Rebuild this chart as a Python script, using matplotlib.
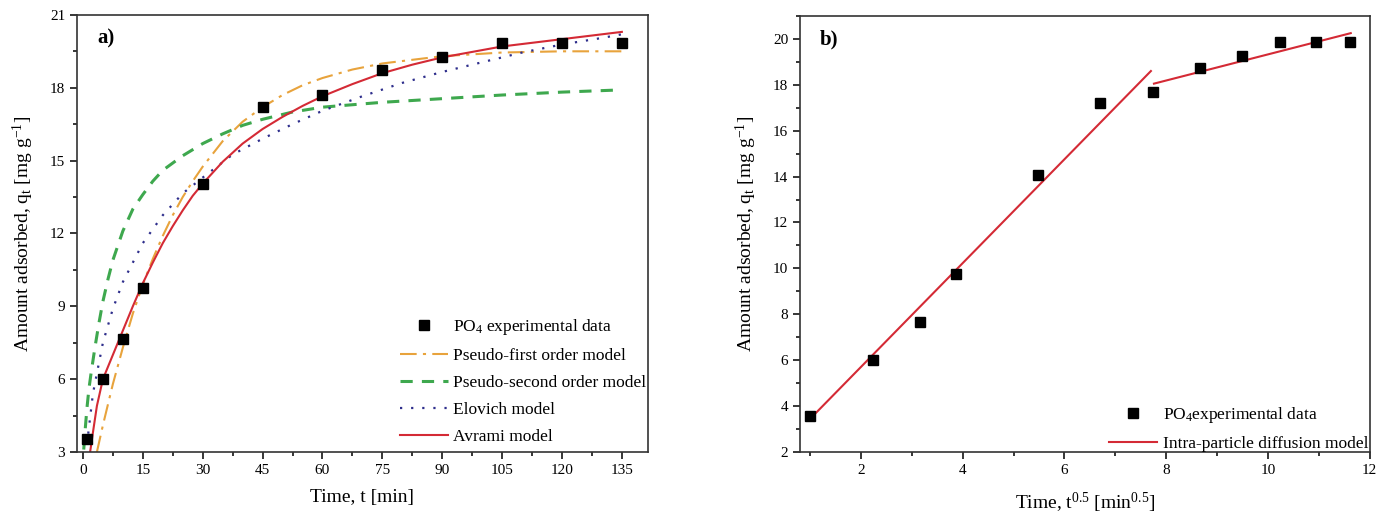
import numpy as np
import matplotlib
matplotlib.use("Agg")
import matplotlib.pyplot as plt
from matplotlib.ticker import MultipleLocator

plt.rcParams['font.family'] = ['Liberation Serif', 'DejaVu Serif']
plt.rcParams['mathtext.default'] = 'regular'

# experimental data (PO4)
time = [1, 5, 10, 15, 30, 45, 60, 75, 90, 105, 120, 135]
q_exp = [3.55, 6.0, 7.65, 9.75, 14.05, 17.2, 17.7, 18.75, 19.25, 19.85, 19.85, 19.85]
sqrt_time = np.sqrt(time)

# model curves
t_pfo = [3.5, 5, 7.5, 10, 12.5, 15, 17.5, 20, 22.5, 25, 27.5, 30, 35, 40, 45, 50, 55, 60,
         67.5, 75, 82.5, 90, 105, 120, 135]
q_pfo = [3.0, 4.1, 5.8, 7.3, 8.7, 9.9, 10.95, 11.9, 12.75, 13.5, 14.15, 14.75, 15.8, 16.6, 17.2,
         17.7, 18.1, 18.4, 18.75, 19.0, 19.15, 19.3, 19.45, 19.5, 19.5]

t_pso = [0.2, 0.6, 1, 1.5, 2, 3, 4, 5, 6.25, 7.5, 8.75, 10, 12.5, 15, 17.5, 20, 25, 30, 35, 40,
         45, 52.5, 60, 75, 90, 105, 120, 133]
q_pso = [3.1, 4.0, 4.8, 5.6, 6.2, 7.3, 8.3, 9.2, 10.1, 10.9, 11.5, 12.1, 13.0, 13.6, 14.15, 14.6,
         15.2, 15.7, 16.1, 16.45, 16.7, 17.0, 17.2, 17.4, 17.55, 17.7, 17.82, 17.9]

t_elo = [1, 2.5, 5, 7.5, 10, 12.5, 15, 20, 25, 30, 37.5, 45, 52.5, 60, 70, 80, 90, 100, 110, 120, 130, 135]
q_elo = [3.3, 5.4, 7.5, 8.9, 10.0, 10.8, 11.6, 12.75, 13.65, 14.3, 15.25, 15.9, 16.5, 17.05, 17.65,
         18.2, 18.65, 19.05, 19.45, 19.78, 20.05, 20.2]

t_avr = [1.8, 2.5, 3.5, 5, 7.5, 10, 12.5, 15, 17.5, 20, 22.5, 25, 27.5, 30, 35, 40, 45, 50, 55, 60,
         67.5, 75, 82.5, 90, 105, 120, 135]
q_avr = [3.0, 3.8, 4.9, 6.0, 7.0, 8.0, 9.0, 9.95, 10.8, 11.6, 12.3, 12.95, 13.55, 14.05, 14.95, 15.7,
         16.3, 16.8, 17.25, 17.65, 18.15, 18.6, 18.95, 19.25, 19.7, 20.0, 20.3]

# intra-particle diffusion segments
ipd1_x = [1.0, 7.7]
ipd1_y = [3.45, 18.6]
ipd2_x = [7.76, 11.63]
ipd2_y = [18.05, 20.25]

fig = plt.figure(figsize=(13.89, 5.26), dpi=100)
ax1 = fig.add_axes([0.0554, 0.1407, 0.411, 0.831])
ax2 = fig.add_axes([0.576, 0.1407, 0.410, 0.829])

# panel a
ax1.plot(time, q_exp, 's', color='black', ms=7, label='PO$_4$ experimental data', zorder=5)
ax1.plot(t_pfo, q_pfo, color='#e8a33c', lw=1.5, dashes=(8, 3, 1.5, 3), label='Pseudo-first order model')
ax1.plot(t_pso, q_pso, color='#3ea84e', lw=2.2, dashes=(4, 3), label='Pseudo-second order model')
ax1.plot(t_elo, q_elo, color='#2e2e8c', lw=1.6, dashes=(1, 4), label='Elovich model')
ax1.plot(t_avr, q_avr, color='#d42a35', lw=1.5, label='Avrami model')

ax1.set_xlim(-1.5, 141.5)
ax1.set_ylim(3, 21)
ax1.xaxis.set_major_locator(MultipleLocator(15))
ax1.xaxis.set_minor_locator(MultipleLocator(7.5))
ax1.yaxis.set_major_locator(MultipleLocator(3))
ax1.yaxis.set_minor_locator(MultipleLocator(1.5))
ax1.set_xlabel('Time, t [min]', fontsize=14, labelpad=9)
ax1.set_ylabel('Amount adsorbed, q$_t$ [mg g$^{-1}$]', fontsize=14, labelpad=10)
ax1.text(0.035, 0.945, 'a)', transform=ax1.transAxes, fontsize=15, fontweight='bold', va='center')
ax1.legend(loc='lower right', bbox_to_anchor=(1.025, -0.02), frameon=False, fontsize=12.5,
           numpoints=1, handlelength=2.8, handletextpad=0.3, labelspacing=0.62)

# panel b
ax2.plot(sqrt_time, q_exp, 's', color='black', ms=7, label='PO$_4$experimental data', zorder=5)
ax2.plot(ipd1_x, ipd1_y, color='#d42a35', lw=1.5, label='Intra-particle diffusion model')
ax2.plot(ipd2_x, ipd2_y, color='#d42a35', lw=1.5)

ax2.set_xlim(0.8, 12)
ax2.set_ylim(2, 21)
ax2.xaxis.set_major_locator(MultipleLocator(2))
ax2.xaxis.set_minor_locator(MultipleLocator(1))
ax2.yaxis.set_minor_locator(MultipleLocator(1))
ax2.set_yticks(range(2, 21, 2))
ax2.set_xlabel('Time, t$^{0.5}$ [min$^{0.5}$]', fontsize=14, labelpad=10)
ax2.set_ylabel('Amount adsorbed, q$_t$ [mg g$^{-1}$]', fontsize=14, labelpad=10)
ax2.text(0.035, 0.945, 'b)', transform=ax2.transAxes, fontsize=15, fontweight='bold', va='center')
ax2.legend(loc='lower right', bbox_to_anchor=(1.025, -0.035), frameon=False, fontsize=12.5,
           numpoints=1, handlelength=2.8, handletextpad=0.3, labelspacing=0.62)

for ax in (ax1, ax2):
    for s in ax.spines.values():
        s.set_linewidth(1.2)
        s.set_color('#333333')
    ax.tick_params(which='both', direction='out', top=False, right=False, labelsize=11, width=1.1)
    ax.tick_params(which='major', length=5)
    ax.tick_params(which='minor', length=3)

fig.savefig('out.png', dpi=100)
